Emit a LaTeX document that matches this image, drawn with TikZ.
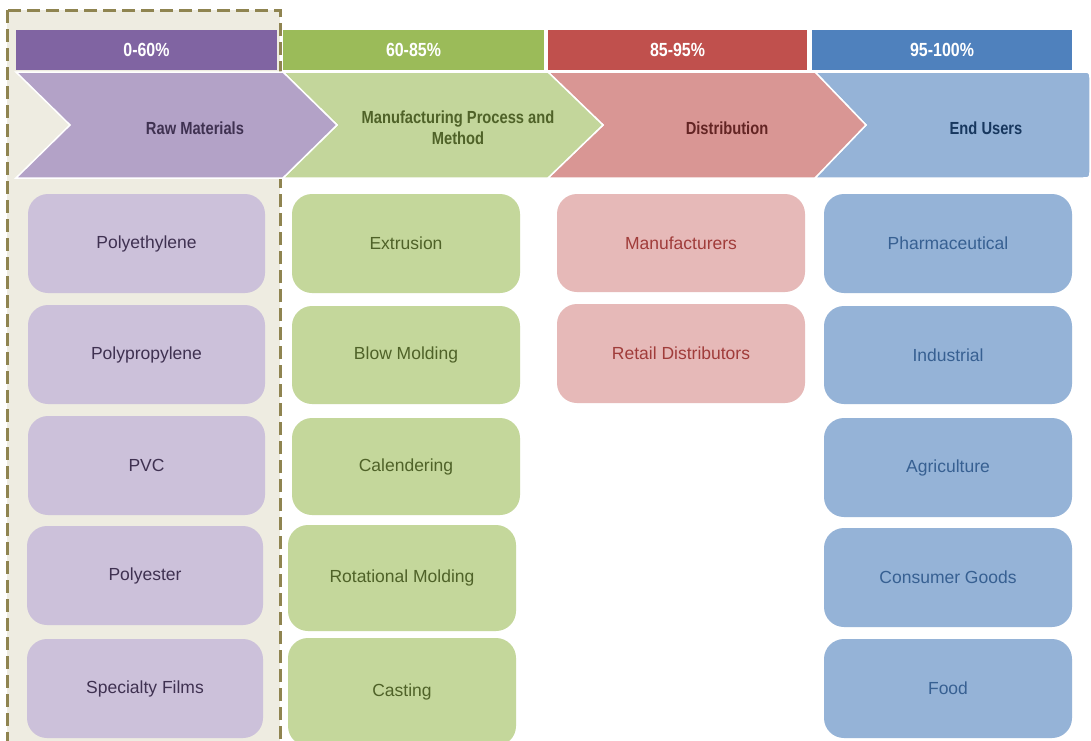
\documentclass[tikz,border=0pt]{standalone}
\usepackage{fontspec}
\setmainfont{Liberation Sans}
\newfontfamily\hdrfont[FakeStretch=0.84]{Liberation Sans}
\definecolor{dashbg}{HTML}{EEECE1}
\definecolor{dashln}{HTML}{8F8450}
\definecolor{pbar}{HTML}{8064A2}
\definecolor{pchev}{HTML}{B3A2C7}
\definecolor{pbox}{HTML}{CCC1DA}
\definecolor{ptxt}{HTML}{3F3151}
\definecolor{gbar}{HTML}{9BBB59}
\definecolor{gchev}{HTML}{C3D69B}
\definecolor{gbox}{HTML}{C4D79B}
\definecolor{gtxt}{HTML}{4F6228}
\definecolor{rbar}{HTML}{C0504D}
\definecolor{rchev}{HTML}{D99694}
\definecolor{rbox}{HTML}{E6B9B8}
\definecolor{rtxt}{HTML}{A03C3A}
\definecolor{rhtxt}{HTML}{632423}
\definecolor{bbar}{HTML}{4F81BD}
\definecolor{bchev}{HTML}{95B3D7}
\definecolor{bbox}{HTML}{95B3D7}
\definecolor{btxt}{HTML}{376092}
\definecolor{bhtxt}{HTML}{17375E}
\begin{document}
\begin{tikzpicture}[x=1pt,y=-1pt,
  bar/.style={fill=#1, draw=none, inner sep=0pt, outer sep=0pt, minimum height=40pt,
    text=white, font=\hdrfont\bfseries\fontsize{19}{22}\selectfont},
  chev/.style={fill=#1, draw=white, line width=1.5pt},
  chevtxt/.style={text=#1, align=center, inner sep=0pt, font=\hdrfont\bfseries\fontsize{17.5}{21}\selectfont},
  itembox/.style={fill=#1, draw=none, rounded corners=20pt, inner sep=0pt, outer sep=0pt,
    font=\fontsize{17.5}{20}\selectfont},
  pitem/.style={itembox=pbox, text=ptxt, minimum width=237pt, minimum height=99pt},
  gitem/.style={itembox=gbox, text=gtxt, minimum width=228pt},
  ritem/.style={itembox=rbox, text=rtxt, minimum width=248pt},
  bitem/.style={itembox=bbox, text=btxt, minimum width=248pt, minimum height=99pt}]
\clip (0,0) rectangle (1091,740);
\fill[white] (0,0) rectangle (1091,740);
% highlighted column
\draw[fill=dashbg, draw=dashln, line width=3pt, dash pattern=on 13pt off 6pt] (7,10) rectangle (280,770);
% header bars
\node[bar=pbar, minimum width=261pt] (b1) at (146.5,50) {0-60\%};
\node[bar=gbar, minimum width=261pt] (b2) at (413.5,50) {60-85\%};
\node[bar=rbar, minimum width=259pt] (b3) at (677.5,50) {85-95\%};
\node[bar=bbar, minimum width=260pt] (b4) at (942,50) {95-100\%};
% chevrons
\draw[chev=bchev] (815,72) -- (1082,72) .. controls (1090,72) .. (1090,80) -- (1090,170)
  .. controls (1090,178) .. (1082,178) -- (815,178) -- (866,125) -- cycle;
\draw[chev=rchev] (548,72) -- (815,72) -- (866,125) -- (815,178) -- (548,178) -- (603,125) -- cycle;
\draw[chev=gchev] (283,72) -- (548,72) -- (603,125) -- (548,178) -- (283,178) -- (337,125) -- cycle;
\draw[chev=pchev] (16,72) -- (283,72) -- (337,125) -- (283,178) -- (16,178) -- (70,125) -- cycle;
\node[chevtxt=ptxt] (c1) at (195,128) {Raw Materials};
\node[chevtxt=gtxt] (c2) at (458,128) {Manufacturing Process and\\Method};
\node[chevtxt=rhtxt] (c3) at (727,128) {Distribution};
\node[chevtxt=bhtxt] (c4) at (986,128) {End Users};
% raw materials
\node[pitem] (p1) at (146.5,243.5) {Polyethylene};
\node[pitem] (p2) at (146.5,354.5) {Polypropylene};
\node[pitem] (p3) at (146.5,465.5) {PVC};
\node[pitem, minimum width=236pt] (p4) at (145,575.5) {Polyester};
\node[pitem, minimum width=236pt] (p5) at (145,688.5) {Specialty Films};
% manufacturing
\node[gitem, minimum height=99pt] (g1) at (406,243.5) {Extrusion};
\node[gitem, minimum height=98pt] (g2) at (406,355) {Blow Molding};
\node[gitem, minimum height=97pt] (g3) at (406,466.5) {Calendering};
\node[gitem, minimum height=106pt] (g4) at (402,578) {Rotational Molding};
\node[gitem, minimum height=108pt] (g5) at (402,692) {Casting};
% distribution
\node[ritem, minimum height=98pt] (r1) at (681,243) {Manufacturers};
\node[ritem, minimum height=99pt] (r2) at (681,353.5) {Retail Distributors};
% end users
\node[bitem] (e1) at (948,243.5) {Pharmaceutical};
\node[bitem, minimum height=98pt] (e2) at (948,355) {Industrial};
\node[bitem] (e3) at (948,467.5) {Agriculture};
\node[bitem] (e4) at (948,577.5) {Consumer Goods};
\node[bitem] (e5) at (948,688.5) {Food};
\end{tikzpicture}
\end{document}
